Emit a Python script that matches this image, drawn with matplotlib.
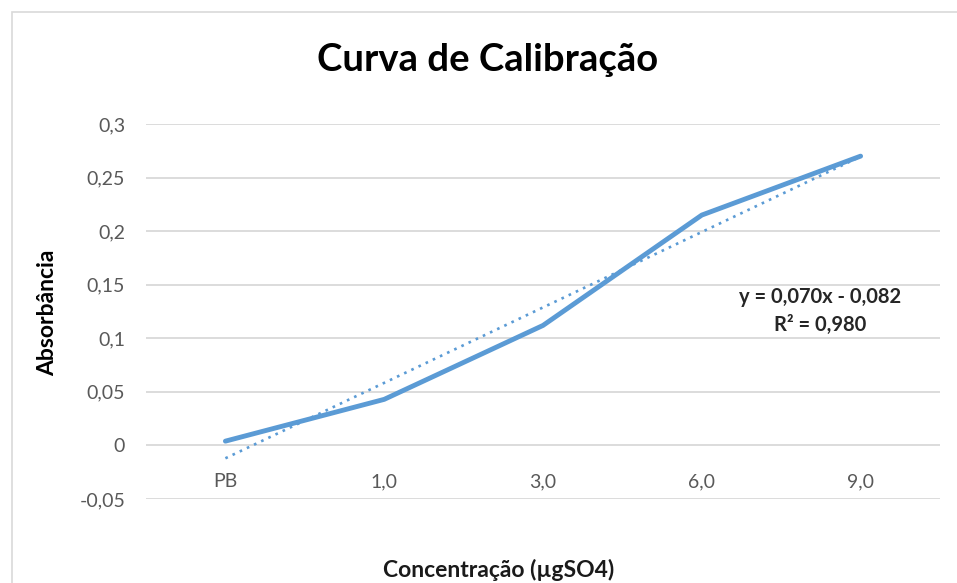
import numpy as np
import matplotlib
matplotlib.use("Agg")
import matplotlib.pyplot as plt
from matplotlib.patches import Rectangle

plt.rcParams['font.family'] = ['Lato', 'DejaVu Sans']

categories = ["PB", "1,0", "3,0", "6,0", "9,0"]
absorbance = [0.004, 0.043, 0.112, 0.215, 0.270]
y_ticks = [-0.05, 0, 0.05, 0.1, 0.15, 0.2, 0.25, 0.3]
y_tick_labels = ["-0,05", "0", "0,05", "0,1", "0,15", "0,2", "0,25", "0,3"]

W, H = 957, 583
fig = plt.figure(figsize=(W / 100, H / 100), dpi=100)
fig.patch.set_facecolor("white")

# chart frame
fig.patches.append(Rectangle((12 / W, -0.05), 1.0, 1 - 12 / H + 0.05,
                             transform=fig.transFigure, fill=False,
                             edgecolor="#D9D9D9", linewidth=1.2))

left, right = 146 / W, 940 / W
bottom, top = 1 - 499 / H, 1 - 124 / H
ax = fig.add_axes([left, bottom, right - left, top - bottom])

x = np.arange(1, len(categories) + 1)
line_color = "#5B9BD5"

ax.plot(x, absorbance, color=line_color, linewidth=3.5,
        solid_capstyle="round", solid_joinstyle="round", zorder=3)

# linear trendline over category index
slope, intercept = np.polyfit(x, absorbance, 1)
fit = slope * x + intercept
ss_res = np.sum((np.array(absorbance) - fit) ** 2)
ss_tot = np.sum((np.array(absorbance) - np.mean(absorbance)) ** 2)
r2 = 1 - ss_res / ss_tot
ax.plot([x[0], x[-1]], [fit[0], fit[-1]], color=line_color,
        linewidth=1.9, linestyle=(0, (1, 2)), zorder=2)

sign = "-" if intercept < 0 else "+"
eq = f"y = {slope:.3f}x {sign} {abs(intercept):.3f}".replace(".", ",")
r2_txt = f"R² = {r2:.3f}".replace(".", ",")
fig.text(820 / W, 1 - 297 / H, eq, ha="center", va="center",
         fontsize=14.5, fontweight="bold", color="#262626")
fig.text(820 / W, 1 - 325 / H, r2_txt, ha="center", va="center",
         fontsize=14.5, fontweight="bold", color="#262626")

ax.set_xlim(0.5, len(categories) + 0.5)
ax.set_ylim(-0.05, 0.3)
ax.set_yticks(y_ticks)
ax.set_yticklabels(y_tick_labels)
ax.set_xticks(x)
ax.set_xticklabels(categories)
ax.grid(axis="y", color="#D9D9D9", linewidth=1.3)
ax.set_axisbelow(True)
for s in ax.spines.values():
    s.set_visible(False)
ax.spines['bottom'].set_position(('data', 0))
ax.tick_params(axis="y", length=0, pad=15, labelsize=14, labelcolor="#595959")
ax.tick_params(axis="x", length=0, pad=20, labelsize=14, labelcolor="#595959")

fig.text(488 / W, 1 - 60 / H, "Curva de Calibração", ha="center", va="center",
         fontsize=27.5, fontweight="bold", color="#000000")
fig.text(48 / W, 1 - 313 / H, "Absorbância", ha="center", va="center",
         rotation=90, fontsize=16.5, fontweight="bold", color="#000000")
fig.text(499 / W, 1 - 570 / H, "Concentração (µgSO4)", ha="center", va="center",
         fontsize=16.5, fontweight="bold", color="#1a1a1a")

fig.savefig("out.png", dpi=100, facecolor="white")
